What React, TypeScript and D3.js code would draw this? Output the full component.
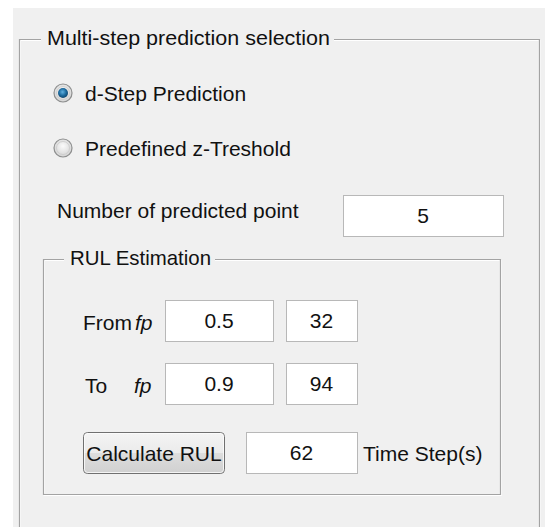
import * as d3 from "d3";

// panel content
const panelTitle = "Multi-step prediction selection";
const radioLabels = ["d-Step Prediction", "Predefined z-Treshold"];
const radioSelected = [true, false];
const pointsLabel = "Number of predicted point";
const predictedPoints = [5];
const rulTitle = "RUL Estimation";
const fpRowLabels = ["From", "To"];
const fpFractions = [0.5, 0.9];
const fpSteps = [32, 94];
const buttonLabel = "Calculate RUL";
const rulSteps = [62];
const rulUnit = "Time Step(s)";

const W = 545;
const H = 527;
const FONT = "'Liberation Sans', Arial, sans-serif";
const FS = 21;
const BORDER = "#a3a3a3";

function GroupBox({ x0, y0, x1, y1, title, titleX, titleW }: any) {
  const p = d3.path();
  p.moveTo(titleX - 6, y0);
  p.lineTo(x0, y0);
  p.lineTo(x0, y1);
  p.lineTo(x1, y1);
  p.lineTo(x1, y0);
  p.lineTo(titleX + titleW + 4, y0);
  const hl = d3.path();
  hl.moveTo(titleX - 6, y0 + 1);
  hl.lineTo(x0 + 1, y0 + 1);
  hl.lineTo(x0 + 1, y1 - 1);
  hl.moveTo(x0, y1 + 1);
  hl.lineTo(x1 + 1, y1 + 1);
  hl.lineTo(x1 + 1, y0);
  hl.moveTo(x1 - 1, y0 + 1);
  hl.lineTo(titleX + titleW + 4, y0 + 1);
  return (
    <g>
      <path d={hl.toString()} fill="none" stroke="#ffffff" strokeWidth={1} />
      <path d={p.toString()} fill="none" stroke={BORDER} strokeWidth={1.2} />
      <text x={titleX} y={y0 + 5} fontSize={FS} fill="#111" textLength={titleW} lengthAdjust="spacingAndGlyphs">
        {title}
      </text>
    </g>
  );
}

function EditBox({ x, y, w, h, value }: any) {
  return (
    <g>
      <rect x={x + 0.5} y={y + 0.5} width={w} height={h} fill="#ffffff" stroke="#b8b8b8" strokeWidth={1} />
      <text x={x + w / 2} y={y + h / 2 + 7} fontSize={FS} textAnchor="middle" fill="#111">
        {value}
      </text>
    </g>
  );
}

function Radio({ cx, cy, on, label }: any) {
  return (
    <g>
      <circle cx={cx} cy={cy} r={9} fill="url(#radioBg)" stroke="#8e8f8f" strokeWidth={1.2} />
      <circle cx={cx} cy={cy} r={6.5} fill="url(#radioIn)" stroke="#c9c9c9" strokeWidth={0.8} />
      {on && <circle cx={cx} cy={cy} r={5} fill="url(#radioDot)" />}
      <text x={cx + 22} y={cy + 8} fontSize={FS} fill="#111">
        {label}
      </text>
    </g>
  );
}

export default function App() {
  const rowY = d3.scalePoint<string>().domain(fpRowLabels).range([300, 363]);
  const radioY = d3.scalePoint<string>().domain(radioLabels).range([93, 148]);
  const boxH = 41;

  return (
    <svg
      width={W}
      height={H}
      viewBox={`0 0 ${W} ${H}`}
      style={{ position: "absolute", left: 0, top: 0, fontFamily: FONT, display: "block" }}
    >
      <defs>
        <radialGradient id="radioBg" cx="50%" cy="40%" r="60%">
          <stop offset="0%" stopColor="#f4f4f4" />
          <stop offset="100%" stopColor="#d4d4d4" />
        </radialGradient>
        <radialGradient id="radioIn" cx="50%" cy="35%" r="70%">
          <stop offset="0%" stopColor="#fbfbfb" />
          <stop offset="100%" stopColor="#d9d9d9" />
        </radialGradient>
        <radialGradient id="radioDot" cx="45%" cy="40%" r="65%">
          <stop offset="0%" stopColor="#5fb0e0" />
          <stop offset="55%" stopColor="#1b6a9e" />
          <stop offset="100%" stopColor="#0d3e63" />
        </radialGradient>
        <linearGradient id="btnBg" x1="0" y1="0" x2="0" y2="1">
          <stop offset="0%" stopColor="#f4f4f4" />
          <stop offset="50%" stopColor="#ebebeb" />
          <stop offset="51%" stopColor="#dddddd" />
          <stop offset="100%" stopColor="#d0d0d0" />
        </linearGradient>
      </defs>
      <rect x={0} y={0} width={W} height={H} fill="#ffffff" />
      <rect x={13} y={8} width={W - 13} height={H - 8} fill="#f0f0f0" />

      <GroupBox x0={19.5} y0={39.5} x1={539.5} y1={H + 10} title={panelTitle} titleX={47} titleW={283} />

      {radioLabels.map((l, i) => (
        <Radio key={l} cx={63} cy={radioY(l)} on={radioSelected[i]} label={l} />
      ))}

      <text x={57} y={218} fontSize={FS} fill="#111">
        {pointsLabel}
      </text>
      <EditBox x={343} y={195} w={160} h={boxH} value={predictedPoints[0]} />

      <GroupBox x0={43.5} y0={259.5} x1={500.5} y1={494.5} title={rulTitle} titleX={70} titleW={141} />

      {fpRowLabels.map((l, i) => {
        const y = rowY(l)!;
        return (
          <g key={l}>
            <text x={i === 0 ? 83 : 85} y={y + 30} fontSize={FS} fill="#111">
              {l}
            </text>
            <text x={i === 0 ? 135 : 134} y={y + 30} fontSize={FS} fontStyle="italic" fill="#111">
              fp
            </text>
            <EditBox x={165} y={y} w={108} h={boxH} value={fpFractions[i]} />
            <EditBox x={286} y={y} w={71} h={boxH} value={fpSteps[i]} />
          </g>
        );
      })}

      <g>
        <rect x={83.5} y={432.5} width={141} height={41} rx={4} fill="url(#btnBg)" stroke="#707070" strokeWidth={1} />
        <rect x={84.5} y={433.5} width={139} height={39} rx={3} fill="none" stroke="#fcfcfc" strokeWidth={1} opacity={0.8} />
        <text x={154} y={461} fontSize={FS} textAnchor="middle" fill="#111">
          {buttonLabel}
        </text>
      </g>
      <EditBox x={246} y={432} w={111} h={boxH} value={rulSteps[0]} />
      <text x={363} y={461} fontSize={FS} fill="#111">
        {rulUnit}
      </text>
    </svg>
  );
}
